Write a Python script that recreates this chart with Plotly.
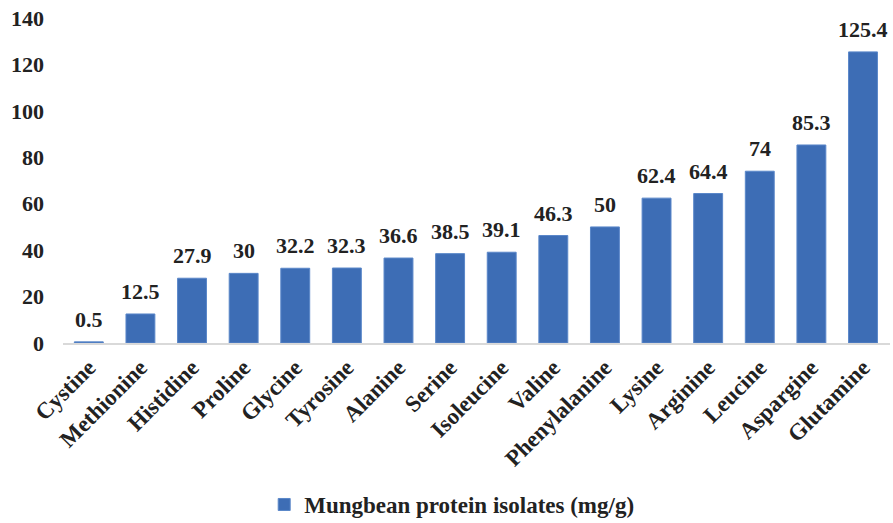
import plotly.graph_objects as go

amino_acids = ["Cystine", "Methionine", "Histidine", "Proline", "Glycine", "Tyrosine",
               "Alanine", "Serine", "Isoleucine", "Valine", "Phenylalanine", "Lysine",
               "Arginine", "Leucine", "Aspargine", "Glutamine"]
content_mg_g = [0.5, 12.5, 27.9, 30, 32.2, 32.3, 36.6, 38.5, 39.1, 46.3, 50, 62.4,
                64.4, 74, 85.3, 125.4]
y_ticks = [0, 20, 40, 60, 80, 100, 120, 140]
series_name = "Mungbean protein isolates (mg/g)"

serif = "Liberation Serif, Times New Roman, serif"
bar_blue = "#3d6db5"
ink = "#222222"

fig = go.Figure(go.Bar(
    x=amino_acids,
    y=content_mg_g,
    name=series_name,
    marker=dict(color=bar_blue, line=dict(color="#5a87c9", width=1)),
    showlegend=True,
))

# value labels above each bar
for name, val in zip(amino_acids, content_mg_g):
    fig.add_annotation(
        x=name, y=val, text=f"{val:g}", showarrow=False,
        yanchor="bottom", yshift=8,
        font=dict(family=serif, size=22, color=ink, weight="bold"),
    )

fig.update_layout(
    width=893, height=523,
    margin=dict(l=63, r=3, t=18, b=180, autoexpand=False),
    paper_bgcolor="white", plot_bgcolor="white",
    bargap=0.44,
    font=dict(family=serif, size=22, color=ink, weight="bold"),
    legend=dict(
        orientation="h", x=0.47, xanchor="center",
        y=-0.497, yanchor="middle",
        itemwidth=30,
        font=dict(family=serif, size=23, color=ink, weight="bold"),
    ),
)
fig.update_xaxes(
    tickangle=-45, showline=True, linecolor="#d9d9d9", linewidth=2,
    ticks="", showgrid=False, automargin=False,
    tickfont=dict(family=serif, size=23, color=ink, weight="bold"),
)
fig.update_yaxes(
    range=[0, 140], tickvals=y_ticks, showgrid=False, zeroline=False,
    showline=False, ticks="", ticklabelstandoff=18, automargin=False,
    tickfont=dict(family=serif, size=22, color=ink, weight="bold"),
)

fig.write_html("out.html")
